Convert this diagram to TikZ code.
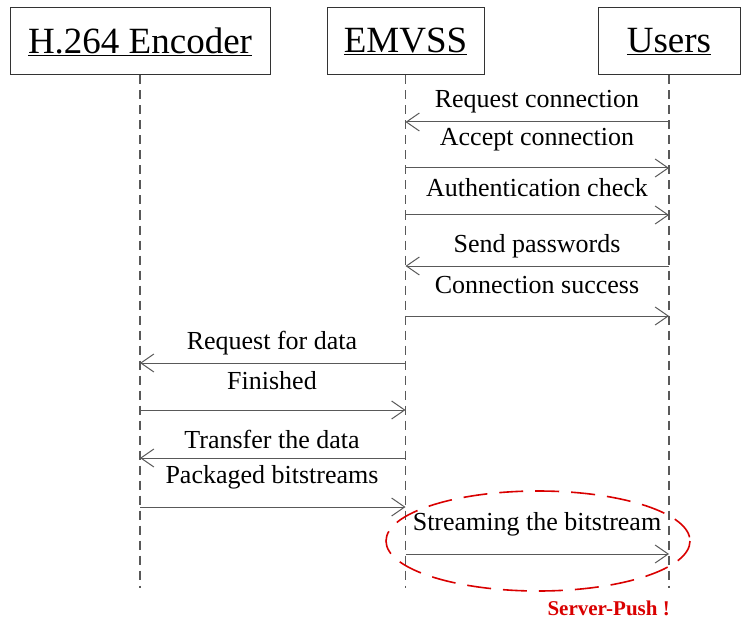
\documentclass[tikz,border=0pt]{standalone}
\usepackage{fontspec}
\setmainfont{Liberation Serif}
\usetikzlibrary{arrows.meta}
\begin{document}
\begin{tikzpicture}[x=1pt,y=-1pt,
  head/.style={draw=black!80,line width=1pt,minimum height=67pt,inner sep=0pt,
    font=\fontsize{37}{40}\selectfont},
  life/.style={draw=black!65,line width=1.2pt,dash pattern=on 9pt off 6pt},
  msg/.style={draw=black!65,line width=1pt,-{Straight Barb[length=13pt,width=18pt,line width=1pt]}},
  lbl/.style={font=\fontsize{26}{30}\selectfont,inner sep=0pt},
  push/.style={draw=red!85!black,line width=1.6pt,dash pattern=on 24pt off 12pt}]
\useasboundingbox (0,0) rectangle (743,620);

% participants
\node[head,minimum width=260pt] (enc) at (140,41.5) {\underline{H.264 Encoder}};
\node[head,minimum width=157pt] (emv) at (405.5,41.5) {\underline{EMVSS}};
\node[head,minimum width=142pt] (usr) at (669,41.5) {\underline{Users}};

% lifelines
\coordinate (end) at (0,588);
\draw[life] (enc.south) -- (enc.south |- end);
\draw[life] (emv.south) -- (emv.south |- end);
\draw[life] (usr.south) -- (usr.south |- end);

% message rows
\coordinate (m1) at (0,122);
\coordinate (m2) at (0,168);
\coordinate (m3) at (0,215);
\coordinate (m4) at (0,266);
\coordinate (m5) at (0,316);
\coordinate (m6) at (0,363);
\coordinate (m7) at (0,410);
\coordinate (m8) at (0,458);
\coordinate (m9) at (0,507);
\coordinate (m10) at (0,554);

\draw[msg] (usr |- m1) -- (emv |- m1);
\draw[msg] (emv |- m2) -- (usr |- m2);
\draw[msg] (emv |- m3) -- (usr |- m3);
\draw[msg] (usr |- m4) -- (emv |- m4);
\draw[msg] (emv |- m5) -- (usr |- m5);
\draw[msg] (emv |- m6) -- (enc |- m6);
\draw[msg] (enc |- m7) -- (emv |- m7);
\draw[msg] (emv |- m8) -- (enc |- m8);
\draw[msg] (enc |- m9) -- (emv |- m9);
\draw[msg] (emv |- m10) -- (usr |- m10);

% message labels
\node[lbl] (t1) at (537,102) {Request connection};
\node[lbl] (t2) at (537,140) {Accept connection};
\node[lbl] (t3) at (537,188) {Authentication check};
\node[lbl] (t4) at (537,246) {Send passwords};
\node[lbl] (t5) at (537,285) {Connection success};
\node[lbl] (t6) at (272,343) {Request for data};
\node[lbl] (t7) at (272,381) {Finished};
\node[lbl] (t8) at (272,439) {Transfer the data};
\node[lbl] (t9) at (272,477) {Packaged bitstreams};
\node[lbl] (t10) at (537,524) {Streaming the bitstream};

% server push highlight
\draw[push] (538,541) ellipse [x radius=152, y radius=50];
\node[font=\fontsize{21}{24}\selectfont\bfseries,text=red!85!black,inner sep=0pt,anchor=east] (sp) at (670,608) {Server-Push !};
\end{tikzpicture}
\end{document}
